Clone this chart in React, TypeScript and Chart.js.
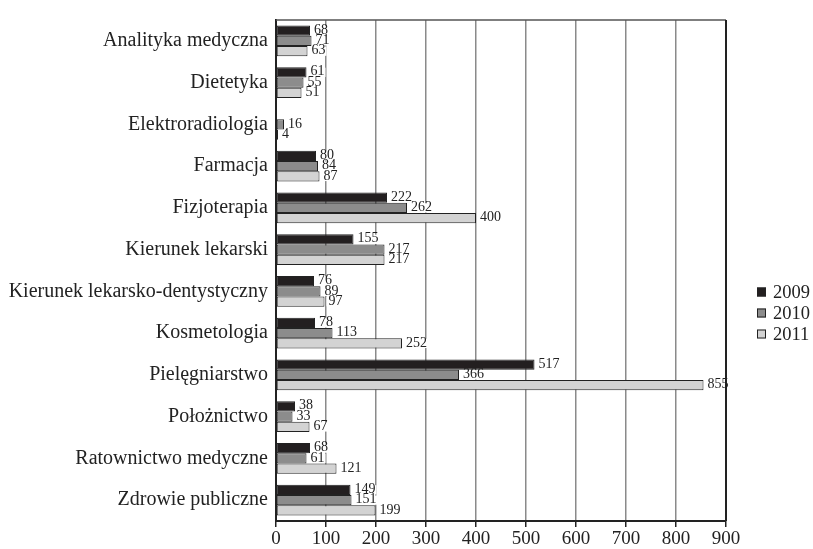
import React, { useEffect, useRef } from "react";
import { Chart, registerables } from "chart.js";

Chart.register(...registerables);

const categories = [
  "Analityka medyczna",
  "Dietetyka",
  "Elektroradiologia",
  "Farmacja",
  "Fizjoterapia",
  "Kierunek lekarski",
  "Kierunek lekarsko-dentystyczny",
  "Kosmetologia",
  "Pielęgniarstwo",
  "Położnictwo",
  "Ratownictwo medyczne",
  "Zdrowie publiczne",
];
const seriesNames = ["2009", "2010", "2011"];
const values2009 = [68, 61, 0, 80, 222, 155, 76, 78, 517, 38, 68, 149];
const values2010 = [71, 55, 16, 84, 262, 217, 89, 113, 366, 33, 61, 151];
const values2011 = [63, 51, 4, 87, 400, 217, 97, 252, 855, 67, 121, 199];
const xTicks = [0, 100, 200, 300, 400, 500, 600, 700, 800, 900];

const colors = ["#231f20", "#8c8c8c", "#d3d3d3"];
const FONT = "'Liberation Serif', 'Times New Roman', serif";

const labelPlugin = {
  id: "valueLabels",
  afterDatasetsDraw(chart: any) {
    const ctx = chart.ctx;
    ctx.save();
    ctx.font = `14px ${FONT}`;
    ctx.textBaseline = "middle";
    ctx.textAlign = "left";
    const items: { x: number; y: number; h: number; w: number; text: string }[] = [];
    chart.data.datasets.forEach((ds: any, di: number) => {
      const meta = chart.getDatasetMeta(di);
      meta.data.forEach((bar: any, i: number) => {
        const v = ds.data[i];
        if (!v) return;
        const text = String(v);
        items.push({
          x: bar.x + 2,
          y: bar.y,
          h: bar.height || 10,
          w: ctx.measureText(text).width,
          text,
        });
      });
    });
    ctx.fillStyle = "#ffffff";
    items.forEach((it) => ctx.fillRect(it.x, it.y - it.h / 2 + 0.5, it.w + 3, it.h - 1));
    ctx.fillStyle = "#222222";
    items.forEach((it) => ctx.fillText(it.text, it.x + 2, it.y - 0.5));
    ctx.restore();
  },
};

const framePlugin = {
  id: "frameLegend",
  afterDraw(chart: any) {
    const { ctx, chartArea } = chart;
    ctx.save();
    ctx.strokeStyle = "#555555";
    ctx.lineWidth = 1.5;
    ctx.beginPath();
    ctx.moveTo(chartArea.left, chartArea.top);
    ctx.lineTo(chartArea.right, chartArea.top);
    ctx.stroke();
    ctx.strokeStyle = "#222222";
    ctx.lineWidth = 2;
    ctx.beginPath();
    ctx.moveTo(chartArea.right, chartArea.top);
    ctx.lineTo(chartArea.right, chartArea.bottom);
    ctx.stroke();

    // legend
    ctx.font = `18.5px ${FONT}`;
    ctx.textBaseline = "middle";
    ctx.textAlign = "left";
    const lx = chartArea.right + 31;
    const ly = 292;
    seriesNames.forEach((name, i) => {
      const y = ly + i * 21;
      ctx.fillStyle = colors[i];
      ctx.fillRect(lx, y - 4.5, 9, 9);
      ctx.strokeStyle = "#222222";
      ctx.lineWidth = 1;
      ctx.strokeRect(lx + 0.5, y - 4.5 + 0.5, 8, 8);
      ctx.fillStyle = "#222222";
      ctx.fillText(name, lx + 16, y + 1);
    });
    ctx.restore();
  },
};

export default function App() {
  const ref = useRef<HTMLCanvasElement | null>(null);
  useEffect(() => {
    document.body.style.margin = "0";
    if (!ref.current) return;
    const chart = new Chart(ref.current, {
      type: "bar",
      data: {
        labels: categories,
        datasets: [values2009, values2010, values2011].map((d, i) => ({
          label: seriesNames[i],
          data: d,
          backgroundColor: colors[i],
          borderColor: "#222222",
          borderWidth: 1,
          borderSkipped: false,
          categoryPercentage: 0.74,
          barPercentage: 1.0,
        })),
      },
      options: {
        indexAxis: "y",
        responsive: false,
        animation: false,
        layout: { padding: { top: 13, right: 87, bottom: 0, left: 0 } },
        plugins: {
          legend: { display: false },
          tooltip: { enabled: false },
        },
        scales: {
          x: {
            type: "linear",
            min: 0,
            max: 900,
            afterBuildTicks: (scale: any) => {
              scale.ticks = xTicks.map((v) => ({ value: v }));
            },
            afterFit: (scale: any) => {
              scale.height = 28;
            },
            ticks: {
              color: "#222222",
              font: { family: FONT, size: 19 },
              padding: 1,
              maxRotation: 0,
            },
            grid: {
              color: "#8a8a8a",
              lineWidth: 1.5,
              tickColor: "#222222",
              tickLength: 6,
              tickWidth: 1.5,
            },
            border: { display: true, color: "#222222", width: 2 },
          },
          y: {
            type: "category",
            afterFit: (scale: any) => {
              scale.width = 276;
            },
            ticks: {
              color: "#222222",
              font: { family: FONT, size: 20 },
              padding: 8,
            },
            grid: { display: false, drawTicks: false },
            border: { display: true, color: "#222222", width: 2 },
          },
        },
      },
      plugins: [labelPlugin, framePlugin],
    } as any);
    return () => chart.destroy();
  }, []);
  return (
    <div style={{ width: 813, height: 549 }}>
      <canvas ref={ref} width={813} height={549} style={{ display: "block" }} />
    </div>
  );
}
